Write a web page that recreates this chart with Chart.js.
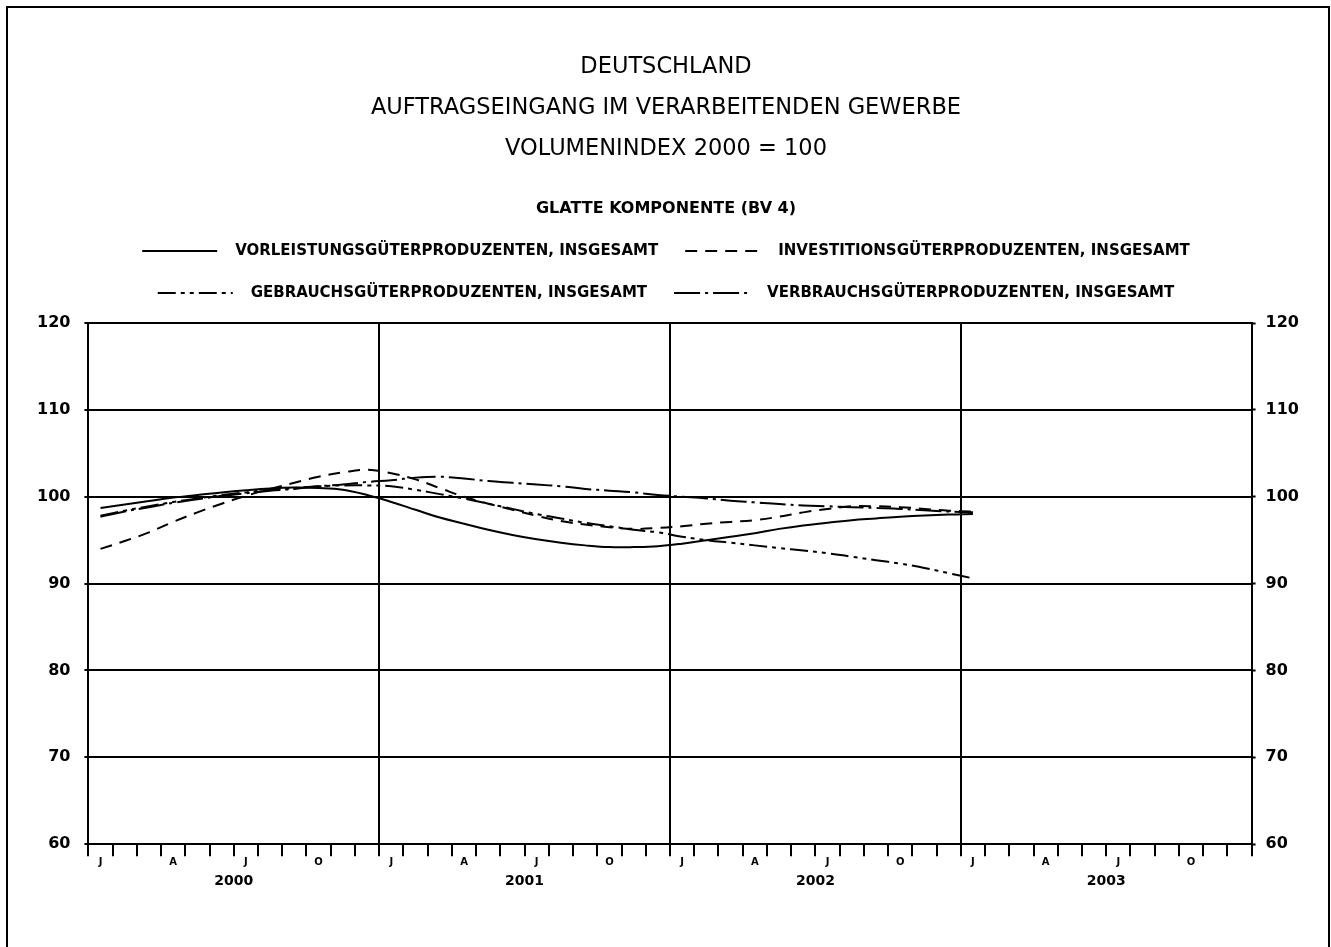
<!DOCTYPE html>
<html lang="de">
<head>
  <meta charset="UTF-8">
  <title>Auftragseingang im Verarbeitenden Gewerbe</title>
  <script src="https://cdn.jsdelivr.net/npm/chart.js"></script>
  <style>
    html, body {
      margin: 0;
      padding: 0;
      background: #fff;
    }

    .wrap {
      position: relative;
      width: 1331px;
      height: 947px;
      overflow: hidden;
    }

    .frame {
      position: absolute;
      left: 6px;
      top: 6px;
      width: 1320px;
      height: 980px;
      border: 2px solid #000;
      pointer-events: none;
    }
  </style>
</head>
<body>
  <div class="wrap">
    <canvas id="chart"></canvas>
    <div class="frame"></div>
  </div>

  <script>
    // month letters under the axis (Jan, Apr, Jul, Oct) and year labels
    const monthLetters = ['J', 'A', 'J', 'O'];
    const years = ['2000', '2001', '2002', '2003'];
    const yTicks = [60, 70, 80, 90, 100, 110, 120];

    const seriesNames = [
      'VORLEISTUNGSGÜTERPRODUZENTEN, INSGESAMT',
      'INVESTITIONSGÜTERPRODUZENTEN, INSGESAMT',
      'GEBRAUCHSGÜTERPRODUZENTEN, INSGESAMT',
      'VERBRAUCHSGÜTERPRODUZENTEN, INSGESAMT'
    ];

    // monthly values, Jan 2000 .. Jan 2003
    const vorleistung = [
      98.7, 99.1, 99.5, 99.9, 100.2, 100.5, 100.75, 100.95, 101.05, 101.0, 100.8, 100.2,
      99.4, 98.5, 97.6, 96.9, 96.2, 95.6, 95.1, 94.7, 94.4, 94.2, 94.2, 94.3,
      94.6, 95.0, 95.4, 95.8, 96.3, 96.7, 97.0, 97.3, 97.5, 97.7, 97.85, 97.95,
      98.0
    ];
    const investition = [
      94.0, 94.9, 95.9, 97.1, 98.2, 99.2, 100.1, 100.9, 101.6, 102.3, 102.8, 103.1,
      102.7, 102.0, 101.0, 100.0, 99.2, 98.5, 97.8, 97.2, 96.8, 96.5, 96.3, 96.4,
      96.6, 96.9, 97.1, 97.3, 97.7, 98.2, 98.6, 98.9, 98.9, 98.8, 98.6, 98.4,
      98.3
    ];
    const gebrauch = [
      97.8, 98.4, 98.9, 99.4, 99.8, 100.2, 100.5, 100.8, 101.0, 101.2, 101.3, 101.3,
      101.2, 100.8, 100.3, 99.8, 99.2, 98.6, 98.0, 97.5, 97.0, 96.6, 96.2, 95.9,
      95.4, 95.0, 94.7, 94.4, 94.1, 93.8, 93.5, 93.1, 92.7, 92.3, 91.8, 91.2,
      90.6
    ];
    const verbrauch = [
      97.7, 98.3, 98.8, 99.3, 99.7, 100.1, 100.4, 100.7, 100.9, 101.2, 101.4, 101.7,
      101.9, 102.2, 102.3, 102.1, 101.8, 101.6, 101.4, 101.2, 100.9, 100.7, 100.5, 100.2,
      100.0, 99.8, 99.55, 99.35, 99.15, 99.0, 98.9, 98.8, 98.7, 98.6, 98.45, 98.3,
      98.2
    ];

    const toPoints = arr => arr.map((v, i) => ({ x: i + 0.5, y: v }));

    const dashes = [
      [],
      [12, 8],
      [18, 5, 4, 5, 4, 5],
      [26, 5, 3, 5]
    ];

    const datasets = [vorleistung, investition, gebrauch, verbrauch].map((arr, i) => ({
      label: seriesNames[i],
      data: toPoints(arr),
      xAxisID: 'x',
      yAxisID: 'y',
      borderColor: '#000',
      backgroundColor: '#000',
      borderWidth: 2,
      borderDash: dashes[i],
      pointRadius: 0,
      tension: 0.4,
      fill: false
    }));

    Chart.defaults.font.family = "'DejaVu Sans', 'Liberation Sans', sans-serif";
    Chart.defaults.color = '#000';

    const ctx = document.getElementById('chart').getContext('2d');
    new Chart(ctx, {
      type: 'line',
      data: { datasets: datasets },
      options: {
        responsive: true,
        maintainAspectRatio: false,
        animation: false,
        layout: {
          padding: { left: 23, right: 22, top: 0, bottom: 60 }
        },
        plugins: {
          title: {
            display: true,
            text: ['DEUTSCHLAND', 'AUFTRAGSEINGANG IM VERARBEITENDEN GEWERBE', 'VOLUMENINDEX 2000 = 100'],
            font: { size: 22.5, weight: 'normal', lineHeight: 41 / 22.5 },
            padding: { top: 46.5, bottom: 29.5 }
          },
          subtitle: {
            display: true,
            text: 'GLATTE KOMPONENTE (BV 4)',
            font: { size: 16, weight: 'bold', lineHeight: 1.25 },
            padding: { top: 0, bottom: -2.5 }
          },
          legend: {
            display: true,
            position: 'top',
            labels: {
              usePointStyle: true,
              pointStyle: 'line',
              pointStyleWidth: 75,
              padding: 27,
              font: { size: 15, weight: 'bold' },
              generateLabels: chart => {
                const items = Chart.defaults.plugins.legend.labels.generateLabels(chart);
                items.forEach(it => {
                  const ds = chart.data.datasets[it.datasetIndex];
                  it.text = '  ' + it.text;
                  it.lineDash = ds.borderDash;
                  it.lineWidth = 2;
                });
                return items;
              }
            }
          },
          tooltip: { enabled: false }
        },
        scales: {
          x: {
            type: 'linear',
            position: 'bottom',
            min: 0,
            max: 48,
            ticks: {
              stepSize: 0.5,
              autoSkip: false,
              maxRotation: 0,
              padding: 0,
              font: { size: 10, weight: 'bold' },
              callback: v => {
                const m = v - 0.5;
                if (Number.isInteger(m) && m % 3 === 0) return monthLetters[(m % 12) / 3];
                return '';
              }
            },
            grid: {
              color: c => (c.tick && c.tick.value % 12 === 0) ? '#000' : 'rgba(0,0,0,0)',
              tickColor: c => (c.tick && Number.isInteger(c.tick.value)) ? '#000' : 'rgba(0,0,0,0)',
              lineWidth: 2,
              tickWidth: 2,
              tickLength: 12
            },
            border: { display: true, color: '#000', width: 2 }
          },
          x2: {
            type: 'linear',
            position: 'bottom',
            min: 0,
            max: 48,
            ticks: {
              stepSize: 6,
              autoSkip: false,
              maxRotation: 0,
              padding: -3,
              font: { size: 14, weight: 'bold' },
              callback: v => (v % 12 === 6) ? years[(v - 6) / 12] : ''
            },
            grid: { display: false },
            border: { display: false }
          },
          spacer: {
            type: 'linear',
            position: 'top',
            display: true,
            ticks: { display: false },
            grid: { display: false, drawTicks: false },
            border: { display: false },
            afterFit: s => { s.height = 12.5; }
          },
          y: {
            position: 'left',
            min: 60,
            max: 120,
            afterBuildTicks: s => { s.ticks = yTicks.map(v => ({ value: v })); },
            ticks: {
              padding: 14,
              font: { size: 16, weight: 'bold' }
            },
            grid: {
              color: '#000',
              lineWidth: 2,
              tickLength: 4,
              tickWidth: 2
            },
            border: { display: true, color: '#000', width: 2 }
          },
          y2: {
            position: 'right',
            min: 60,
            max: 120,
            afterBuildTicks: s => { s.ticks = yTicks.map(v => ({ value: v })); },
            ticks: {
              padding: 10,
              font: { size: 16, weight: 'bold' }
            },
            grid: {
              drawOnChartArea: false,
              color: '#000',
              tickLength: 4,
              tickWidth: 2
            },
            border: { display: true, color: '#000', width: 2 }
          }
        }
      }
    });
  </script>
</body>
</html>
